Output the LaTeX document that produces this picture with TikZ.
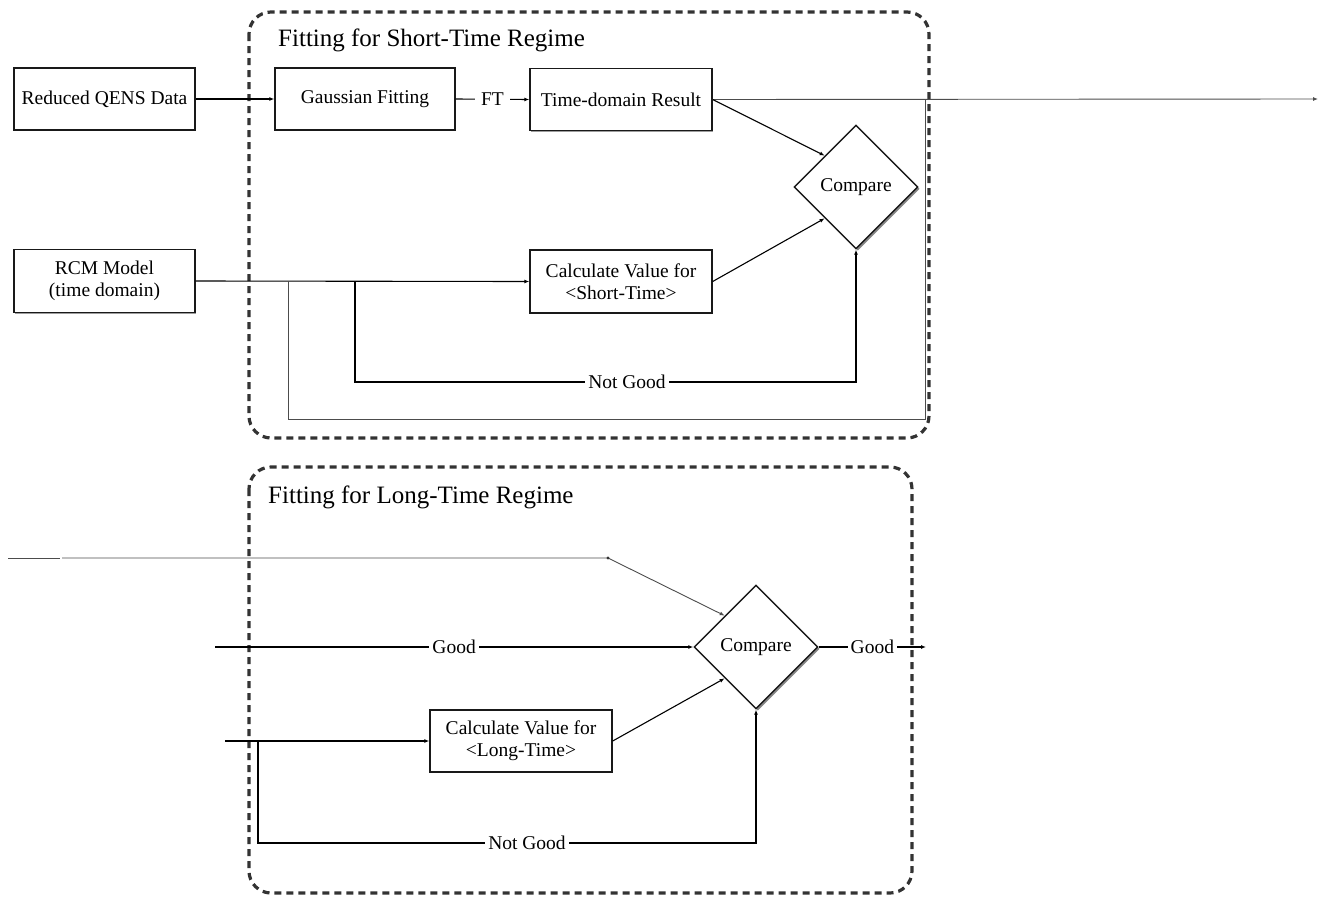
\documentclass[tikz,border=0pt]{standalone}
\usepackage{fontspec}
\setmainfont{Liberation Serif}
\usetikzlibrary{shapes.geometric,shadows,arrows.meta,calc}
\begin{document}
\begin{tikzpicture}[x=1pt,y=-1pt,
  box/.style={draw=black!90,line width=1.4pt,fill=white,minimum width=182pt,minimum height=62pt,inner sep=2pt,align=center,
    font=\fontsize{19.5}{22}\selectfont,
    drop shadow={shadow xshift=1.4pt,shadow yshift=-1.4pt,fill=black!55,opacity=0.7}},
  dia/.style={draw=black!90,line width=1.4pt,fill=white,shape=diamond,minimum width=124pt,minimum height=124pt,inner sep=0pt,aspect=1,
    font=\fontsize{19.5}{22}\selectfont,
    drop shadow={shadow xshift=1.8pt,shadow yshift=-1.8pt,fill=black!60,opacity=0.8}},
  regime/.style={draw=black!80,line width=3.2pt,dash pattern=on 7pt off 5pt,rounded corners=22pt},
  ttl/.style={anchor=west,font=\fontsize{25}{28}\selectfont,inner sep=0pt},
  lbl/.style={fill=white,inner xsep=3pt,inner ysep=1pt,font=\fontsize{19.5}{22}\selectfont},
  conn/.style={line width=1.1pt,-{Latex[length=5pt,width=4pt]}},
  thin/.style={line width=0.9pt,draw=black!70},
  thinarr/.style={line width=0.9pt,draw=black!70,-{Latex[length=5pt,width=4pt]}}
]
\useasboundingbox (0,0) rectangle (1327,905);

% regime frames
\draw[regime] (249,12) rectangle (929,438);
\draw[regime] (249,467) rectangle (912,893);
\node[ttl] (t1) at (278,40) {Fitting for Short-Time Regime};
\node[ttl] (t2) at (268,497) {Fitting for Long-Time Regime};

% top nodes
\node[box,minimum width=181pt] (rq) at (104.5,99) {Reduced QENS Data};
\node[box,minimum width=180pt] (gf) at (365,99) {Gaussian Fitting};
\node[box] (td) at (621,99.5) {Time-domain Result};
\node[box,minimum width=181pt,minimum height=63pt] (rcm) at (104.5,281) {RCM Model\\(time domain)};
\node[box,minimum height=63pt] (cs) at (621,281.5) {Calculate Value for\\{<}Short-Time{>}};
\node[dia] (d1) at (856,187) {Compare};

\coordinate (b1) at (288,281);
\coordinate (b2) at (355,281);
\coordinate (outA) at (1318,99);
\coordinate (r1) at (925,419);
\coordinate (n1) at (856,382);

% top connectors
\draw[conn] (rq.east) -- (gf.west);
\draw[conn] (gf.east) -- node[lbl,inner xsep=6pt] (ft) {FT} (td.west);
\draw[thinarr] (td.east) -- (outA);
\draw[conn] (td.east) -- ($(d1.west)!0.5!(d1.north)$);
\draw[conn] (cs.east) -- ($(d1.west)!0.5!(d1.south)$);
\draw[conn] (rcm.east) -- (cs.west);
\draw[thin] (b1) |- (r1) -- (925,99);
\draw[conn] (b2) |- (n1) -- (d1.south);
\node[lbl] (ng1) at (627,382) {Not Good};

% bottom nodes
\node[dia] (d2) at (756,647) {Compare};
\node[box] (cl) at (521,741) {Calculate Value for\\{<}Long-Time{>}};

\coordinate (in0) at (8,558);
\coordinate (in1) at (60,558);
\coordinate (in2) at (62,558);
\coordinate (in3) at (608,558);
\coordinate (g0) at (215,647);
\coordinate (gout) at (926,647);
\coordinate (c0) at (225,741);
\coordinate (b3) at (258,741);
\coordinate (n2) at (756,843);

\draw[thin] (in0) -- (in1);
\draw[thinarr] (in2) -- (in3) -- ($(d2.west)!0.5!(d2.north)$);
\fill[black!80] (in3) circle (1.6pt);
\draw[conn] (g0) -- node[lbl] (gd1) {Good} (d2.west);
\draw[conn] (d2.east) -- node[lbl,pos=0.5] (gd2) {Good} (gout);
\draw[conn] (c0) -- (cl.west);
\draw[conn] (cl.east) -- ($(d2.west)!0.5!(d2.south)$);
\draw[conn] (b3) |- (n2) -- (d2.south);
\node[lbl] (ng2) at (527,843) {Not Good};
\end{tikzpicture}
\end{document}
